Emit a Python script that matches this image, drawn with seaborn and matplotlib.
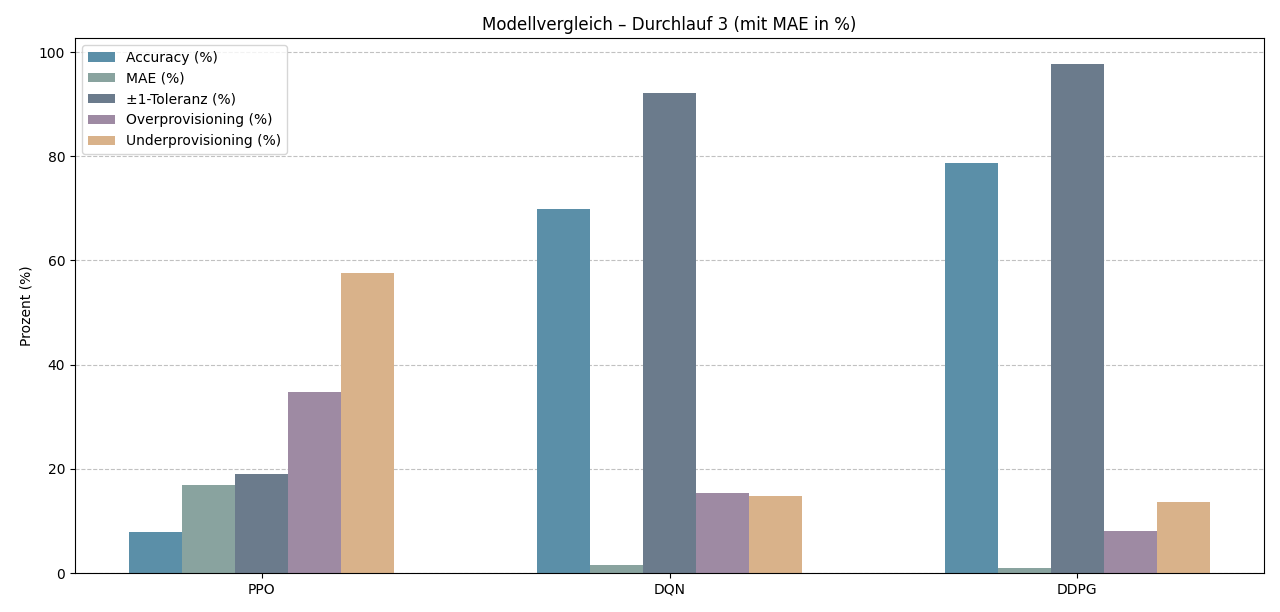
import matplotlib
matplotlib.use("Agg")
import matplotlib.pyplot as plt
import seaborn as sns
import pandas as pd

modelle = ["PPO", "DQN", "DDPG"]
metriken = ["Accuracy (%)", "MAE (%)", "±1-Toleranz (%)", "Overprovisioning (%)", "Underprovisioning (%)"]
accuracy = [7.8, 69.8, 78.8]
mae = [16.9, 1.5, 0.9]
toleranz = [19.0, 92.2, 97.8]
over = [34.7, 15.4, 8.0]
under = [57.6, 14.8, 13.6]
farben = ["#5b8fa8", "#89a39f", "#6b7b8c", "#9e8aa3", "#d9b28a"]

rows = []
for name, vals in zip(metriken, [accuracy, mae, toleranz, over, under]):
    for m, v in zip(modelle, vals):
        rows.append({"Modell": m, "Metrik": name, "Wert": v})
df = pd.DataFrame(rows)

fig, ax = plt.subplots(figsize=(12.8, 6.12), dpi=100)
sns.barplot(data=df, x="Modell", y="Wert", hue="Metrik", hue_order=metriken,
            order=modelle, palette=farben, width=0.65, saturation=1, ax=ax,
            errorbar=None, zorder=2)
ax.set_xlim(-0.4575, 2.4575)
ax.set_ylim(0, 102.7)
ax.yaxis.grid(True, linestyle="--", color="#bbbbbb", alpha=0.9, zorder=0)
ax.set_axisbelow(True)
ax.set_xlabel("")
ax.set_ylabel("Prozent (%)")
ax.set_title("Modellvergleich – Durchlauf 3 (mit MAE in %)")
ax.legend(loc="upper left")
fig.subplots_adjust(left=0.0586, right=0.9875, top=0.9379, bottom=0.0637)
fig.savefig("out.png", dpi=100)
